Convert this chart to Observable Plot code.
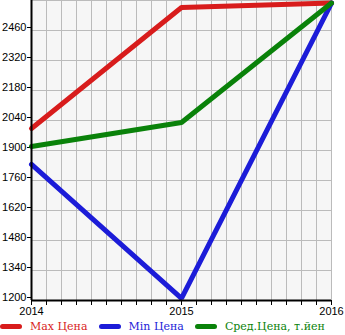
<!DOCTYPE html>
<html><head><meta charset="utf-8">
<script src="https://cdn.jsdelivr.net/npm/d3@7"></script>
<script src="https://cdn.jsdelivr.net/npm/@observablehq/plot@0.6"></script>
<style>
body{margin:0;background:#fff;}
#legend{display:flex;align-items:center;height:20px;font-family:"DejaVu Serif","Liberation Serif",serif;font-size:11px;white-space:nowrap;}
.item{display:flex;align-items:center;margin-right:11px;}
.mk{display:inline-block;width:22px;height:5px;border-radius:3px;margin-right:8px;}
</style></head>
<body><div id="chart"></div><div id="legend"></div>
<script>
const years = [2014, 2015, 2016];
const maxPrice = [2003, 2567, 2588];
const minPrice = [1835, 1210, 2588];
const avgPrice = [1919, 2031, 2588];
const seriesNames = ["Max Цена", "Min Цена", "Сред.Цена, т.йен"];
const seriesColors = ["#d81c1c", "#1c1cd8", "#0a820a"];
const yTicks = [1200, 1340, 1480, 1620, 1760, 1900, 2040, 2180, 2320, 2460];
const xLabelTicks = [2014, 2015, 2016];

const seriesVals = [maxPrice, minPrice, avgPrice];
const data = [];
seriesVals.forEach((vals, s) => years.forEach((yr, i) => data.push({year: yr, value: vals[i], series: seriesNames[s]})));
const xMinor = d3.range(0, 21).map(i => 2014 + i * 0.1);

const chart = Plot.plot({
  width: 345, height: 316,
  marginLeft: 31, marginRight: 14, marginTop: 0, marginBottom: 16,
  x: {domain: [2014, 2016], axis: null},
  y: {domain: [1200, 2600], axis: null},
  color: {domain: seriesNames, range: seriesColors},
  style: {fontFamily: "Liberation Sans, Arial, sans-serif", fontSize: "11px", background: "#fff", overflow: "visible"},
  marks: [
    Plot.frame({fill: "#f6f6f6", stroke: null}),
    Plot.ruleY(yTicks.concat([2600]), {stroke: "#bbb", strokeWidth: 1}),
    Plot.ruleX(xMinor, {stroke: "#bbb", strokeWidth: 1}),
    Plot.axisY({ticks: yTicks, tickSize: 4, tickPadding: 1, tickFormat: d => String(d), fontSize: 11, textAnchor: "end", dy: -3, stroke: "#000", label: null}),
    Plot.axisX({ticks: xMinor, tickSize: 5, tickFormat: () => "", label: null}),
    Plot.axisX({ticks: xLabelTicks, tickSize: 0, tickPadding: 7, tickFormat: d => String(d), fontSize: 11, label: null}),
    Plot.line(data, {x: "year", y: "value", z: "series", stroke: "series", strokeWidth: 5, strokeLinejoin: "miter", strokeLinecap: "round"}),
    Plot.ruleX([2014], {stroke: "#000", strokeWidth: 2}),
    Plot.ruleY([1200], {stroke: "#000", strokeWidth: 2})
  ]
});
document.getElementById("chart").appendChild(chart);

const legend = document.getElementById("legend");
seriesNames.forEach((n, i) => {
  const it = document.createElement("div");
  it.className = "item";
  it.innerHTML = `<span class="mk" style="background:${seriesColors[i]}"></span><span style="color:${seriesColors[i]}">${n}</span>`;
  legend.appendChild(it);
});
</script></body></html>
